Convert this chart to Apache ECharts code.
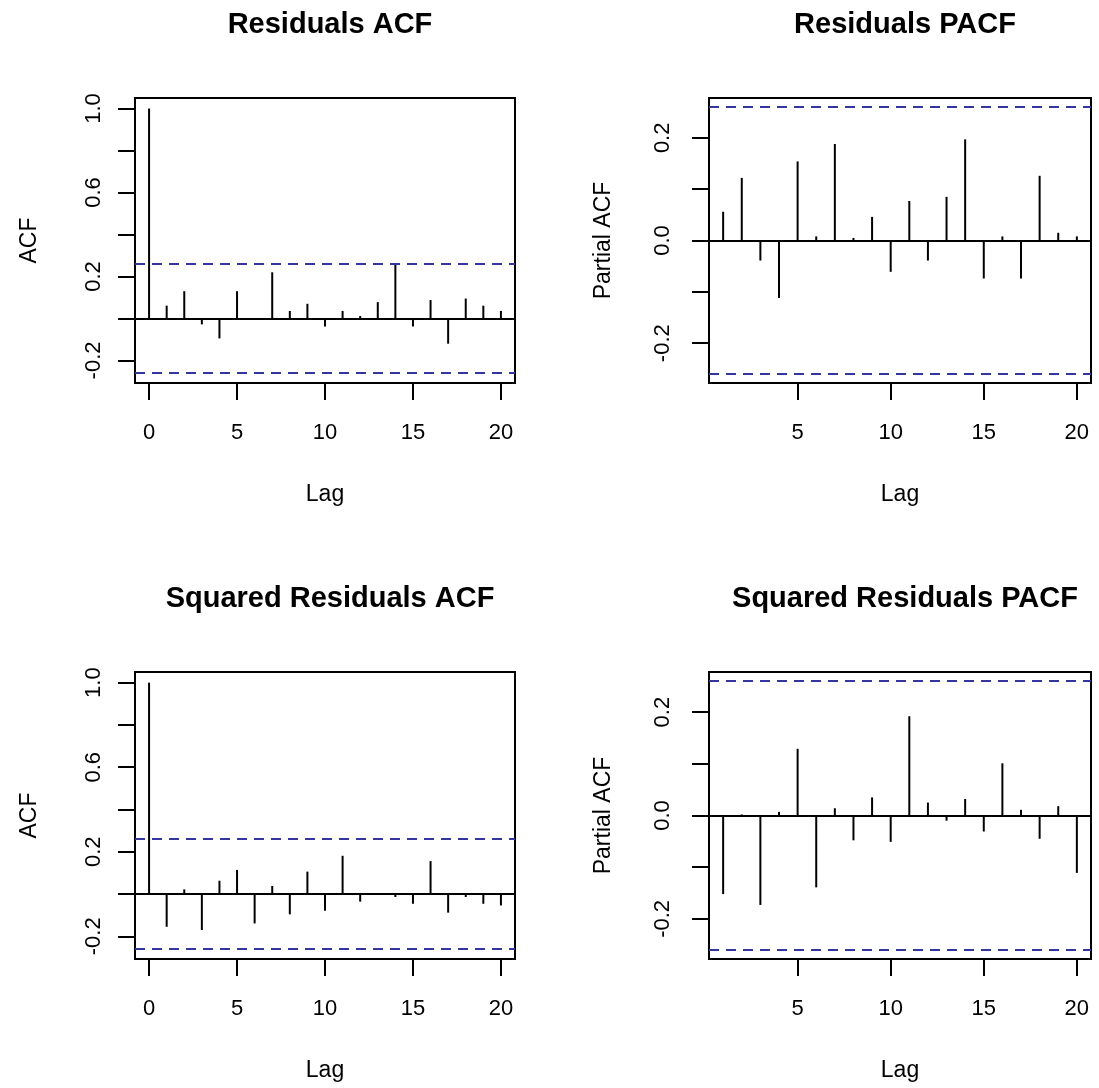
<!DOCTYPE html>
<html><head><meta charset="utf-8">
<script src="https://cdn.jsdelivr.net/npm/echarts@6/dist/echarts.min.js"></script>
<style>html,body{margin:0;padding:0;background:#fff}#c{width:1099px;height:1088px}</style>
</head><body><div id="c"></div>
<script>
// ---- data ----
const acfLags = [0,1,2,3,4,5,6,7,8,9,10,11,12,13,14,15,16,17,18,19,20];
const pacfLags = [1,2,3,4,5,6,7,8,9,10,11,12,13,14,15,16,17,18,19,20];
const residAcf = [1.0,0.061,0.130,-0.028,-0.095,0.130,0.002,0.220,0.036,0.070,-0.038,0.036,0.012,0.078,0.256,-0.038,0.088,-0.120,0.095,0.061,0.036];
const residPacf = [0.056,0.122,-0.039,-0.112,0.154,0.008,0.188,0.005,0.046,-0.061,0.077,-0.039,0.085,0.197,-0.074,0.008,-0.074,0.126,0.015,0.008];
const sqResidAcf = [1.0,-0.155,0.022,-0.170,0.063,0.114,-0.139,0.038,-0.096,0.106,-0.079,0.181,-0.036,0.002,-0.014,-0.046,0.156,-0.088,-0.014,-0.046,-0.054];
const sqResidPacf = [-0.152,0.002,-0.173,0.007,0.129,-0.139,0.014,-0.048,0.035,-0.051,0.192,0.025,-0.010,0.032,-0.031,0.101,0.011,-0.045,0.018,-0.111];
const confLimit = 0.257;
const xTickValues = [0,5,10,15,20];
const acfYTicks = [-0.2,0,0.2,0.4,0.6,0.8,1.0];
const acfYLabels = [-0.2,0.2,0.6,1.0];
const pacfYTicks = [-0.2,-0.1,0,0.1,0.2];
const pacfYLabels = [-0.2,0,0.2];
const titles = ['Residuals ACF','Residuals PACF','Squared Residuals ACF','Squared Residuals PACF'];
const yNames = ['ACF','Partial ACF','ACF','Partial ACF'];
const xName = 'Lag';

// ---- layout ----
const FONT = '"Liberation Sans", Arial, sans-serif';
const panels = [
  {left:135, top:98,  width:380, height:285, lags:acfLags,  vals:residAcf,    acf:true},
  {left:709, top:98,  width:382, height:285, lags:pacfLags, vals:residPacf,   acf:false},
  {left:135, top:672, width:380, height:287, lags:acfLags,  vals:sqResidAcf,  acf:true},
  {left:709, top:672, width:382, height:287, lags:pacfLags, vals:sqResidPacf, acf:false}
];
function ext(lo, hi){ const d=(hi-lo)*0.04; return [lo-d, hi+d]; }

const option = {animation:false, backgroundColor:'#fff', title:[], grid:[], xAxis:[], yAxis:[], series:[]};
panels.forEach((p,i)=>{
  const lagsMin = Math.min(...p.lags), lagsMax = Math.max(...p.lags);
  const xr = ext(lagsMin, lagsMax);
  const yr = ext(Math.min(-confLimit, ...p.vals), Math.max(confLimit, ...p.vals));
  option.title.push({text:titles[i], left:p.left+p.width/2, top:p.top-93, textAlign:'center',
    textStyle:{fontFamily:FONT, fontSize:29, fontWeight:'bold', color:'#000'}});
  option.grid.push({left:p.left, top:p.top, width:p.width, height:p.height, show:true,
    borderColor:'#000', borderWidth:2, backgroundColor:'transparent', containLabel:false});
  option.xAxis.push({type:'value', gridIndex:i, min:xr[0], max:xr[1],
    name:xName, nameLocation:'middle', nameGap:100,
    nameTextStyle:{fontFamily:FONT, fontSize:23, color:'#000'},
    axisLine:{show:false, onZero:false}, splitLine:{show:false},
    axisTick:{show:true, inside:false, length:17, customValues:xTickValues, lineStyle:{color:'#000', width:2}},
    axisLabel:{show:true, margin:39, customValues:xTickValues, fontFamily:FONT, fontSize:22, color:'#000',
      formatter:v=>String(Math.round(v))}});
  const yt = p.acf ? acfYTicks : pacfYTicks;
  const yl = p.acf ? acfYLabels : pacfYLabels;
  option.yAxis.push({type:'value', gridIndex:i, min:yr[0], max:yr[1],
    name:yNames[i], nameLocation:'middle', nameGap:94, nameRotate:90,
    nameTextStyle:{fontFamily:FONT, fontSize:23, color:'#000'},
    axisLine:{show:false, onZero:false}, splitLine:{show:false},
    axisTick:{show:true, inside:false, length:17, customValues:yt, lineStyle:{color:'#000', width:2}},
    axisLabel:{show:true, rotate:90, margin:p.acf?30:35, customValues:yl, fontFamily:FONT, fontSize:22, color:'#000',
      formatter:v=>Number(v).toFixed(1)}});
  option.series.push({type:'bar', xAxisIndex:i, yAxisIndex:i, barWidth:2,
    itemStyle:{color:'#000'}, silent:true,
    data:p.lags.map((l,k)=>[l, p.vals[k]]),
    markLine:{silent:true, symbol:'none', label:{show:false}, animation:false,
      data:[
        {yAxis:0, lineStyle:{type:'solid', color:'#000', width:2}},
        {yAxis:confLimit, lineStyle:{type:[10,7], color:'#3535a0', width:2}},
        {yAxis:-confLimit, lineStyle:{type:[10,7], color:'#3535a0', width:2}}
      ]}});
});
const chart = echarts.init(document.getElementById('c'), null, {renderer:'canvas'});
chart.setOption(option);
</script></body></html>
